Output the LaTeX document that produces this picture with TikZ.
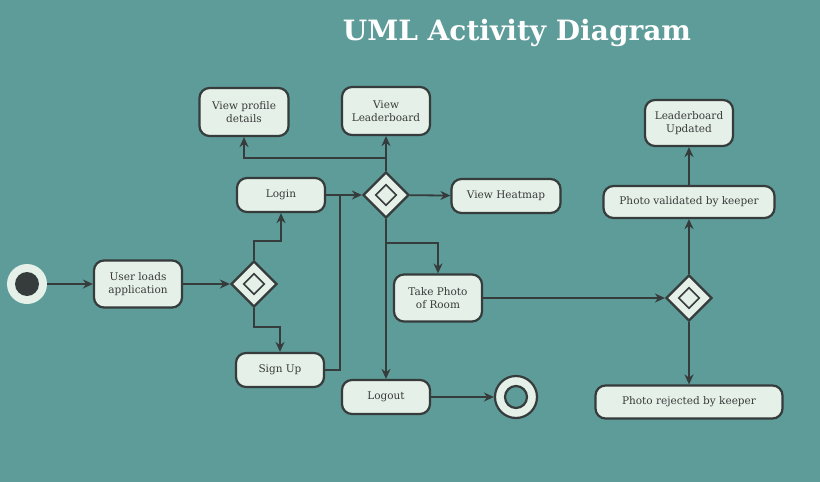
\documentclass[tikz,border=0pt]{standalone}
\usepackage{fontspec}
\setmainfont{DejaVu Serif}
\usetikzlibrary{shapes.geometric,arrows.meta}
\definecolor{bgc}{HTML}{5E9C99}
\definecolor{nodefill}{HTML}{E4F0E8}
\definecolor{dark}{HTML}{363B3B}
\definecolor{textc}{HTML}{3A3A3A}
\tikzset{
  act/.style={draw=dark, line width=2.2pt, fill=nodefill, rounded corners=10pt, text=textc,
    font=\fontsize{10.5}{13.5}\selectfont, align=center, inner sep=0pt},
  dec/.style={diamond, draw=dark, line width=2.2pt, fill=nodefill, minimum width=46pt, minimum height=46pt, inner sep=0pt},
  decin/.style={diamond, draw=dark, line width=1.6pt, minimum width=21pt, minimum height=21pt, inner sep=0pt},
  arr/.style={draw=dark, line width=1.8pt, -{Stealth[length=10pt,width=9pt]}},
  ln/.style={draw=dark, line width=1.8pt},
}
\begin{document}
\begin{tikzpicture}[x=1pt,y=-1pt]
\fill[bgc] (0,0) rectangle (820,482);
\useasboundingbox (0,0) rectangle (820,482);
\node[text=white, font=\bfseries\fontsize{28}{33}\selectfont] (title) at (517,33) {UML Activity Diagram};
% start / end
\node[circle, fill=nodefill, minimum size=40pt, inner sep=0pt] (start) at (27,284) {};
\node[circle, fill=dark, minimum size=24pt, inner sep=0pt] (startin) at (27,284) {};
\node[circle, draw=dark, line width=2.2pt, fill=nodefill, minimum size=42pt, inner sep=0pt] (end) at (516,397) {};
\node[circle, draw=dark, line width=2.2pt, fill=bgc, minimum size=22pt, inner sep=0pt] (endin) at (516,397) {};
% activities
\node[act, minimum width=88pt, minimum height=47pt] (user) at (138,284) {User loads\\application};
\node[act, minimum width=88pt, minimum height=34pt] (login) at (281,195) {Login};
\node[act, minimum width=88pt, minimum height=34pt] (signup) at (280,370) {Sign Up};
\node[act, minimum width=89pt, minimum height=48pt] (vp) at (244,112) {View profile\\details};
\node[act, minimum width=88pt, minimum height=48pt] (vl) at (386,111) {View\\Leaderboard};
\node[act, minimum width=109pt, minimum height=34pt] (vh) at (506,196) {View Heatmap};
\node[act, minimum width=88pt, minimum height=47pt] (photo) at (438,298) {Take Photo\\of Room};
\node[act, minimum width=88pt, minimum height=34pt] (logout) at (386,397) {Logout};
\node[act, minimum width=171pt, minimum height=32pt] (valid) at (689,202) {Photo validated by keeper};
\node[act, minimum width=88pt, minimum height=46pt] (lu) at (689,123) {Leaderboard\\Updated};
\node[act, minimum width=187pt, minimum height=33pt] (rej) at (689,402) {Photo rejected by keeper};
% decisions
\node[dec] (d1) at (254,284) {};
\node[decin] (d1i) at (254,284) {};
\node[dec] (d2) at (386,195) {};
\node[decin] (d2i) at (386,195) {};
\node[dec] (d3) at (689,298) {};
\node[decin] (d3i) at (689,298) {};
% junction coordinates
\coordinate (j1) at (340,195);
\coordinate (b1) at (386,158);
\coordinate (b2) at (386,243);
% connectors
\draw[arr] (start) -- (user);
\draw[arr] (user) -- (d1);
\draw[arr] (d1.north) -- ++(0,-19) -| (login.south);
\draw[arr] (d1.south) -- ++(0,19) -| (signup.north);
\draw[arr] (login) -- (d2);
\draw[ln] (signup.east) -| (j1);
\draw[arr] (d2.north) -- (vl.south);
\draw[arr] (b1) -| (vp.south);
\draw[arr] (d2) -- (vh);
\draw[arr] (d2.south) -- (logout.north);
\draw[arr] (b2) -| (photo.north);
\draw[arr] (photo) -- (d3);
\draw[arr] (d3.north) -- (valid.south);
\draw[arr] (valid.north) -- (lu.south);
\draw[arr] (d3.south) -- (rej.north);
\draw[arr] (logout) -- (end);
\end{tikzpicture}
\end{document}
